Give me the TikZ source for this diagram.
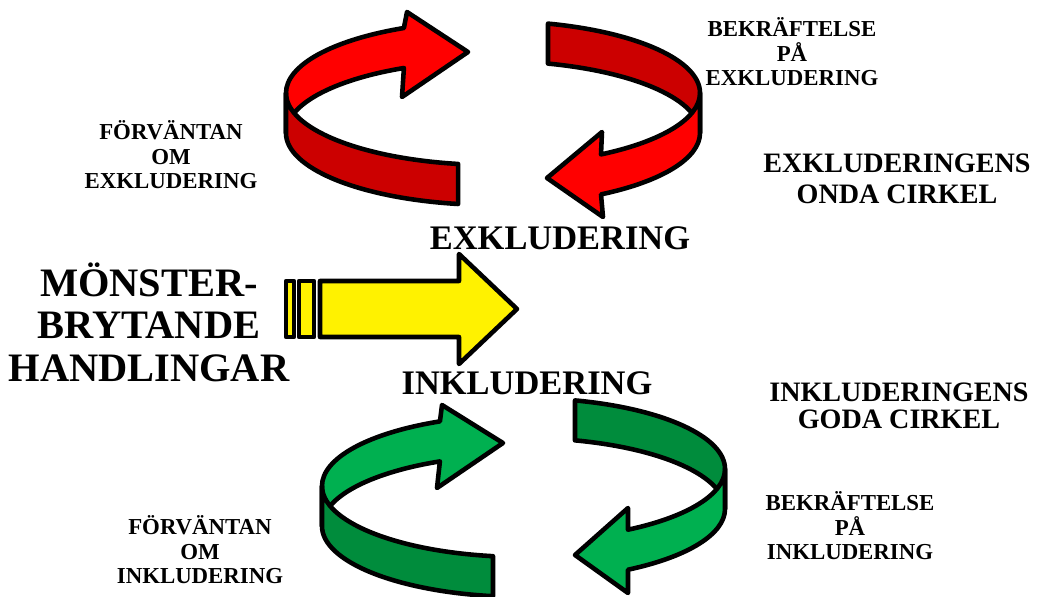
\documentclass[tikz,border=0pt]{standalone}
\usepackage{fontspec}
\setmainfont{Liberation Serif}
\definecolor{ringred}{RGB}{255,0,0}
\definecolor{ringdarkred}{RGB}{204,0,0}
\definecolor{ringgreen}{RGB}{0,176,80}
\definecolor{ringdarkgreen}{RGB}{0,140,60}
\tikzset{
  band/.style={draw=black, line width=2.6pt, line join=round},
  lbl/.style={font=\bfseries\fontsize{13}{13.9}\selectfont, align=center},
  cirkel/.style={font=\bfseries\fontsize{16}{18}\selectfont, align=center},
  word/.style={font=\bfseries\fontsize{19.6}{21}\selectfont},
}
\begin{document}
\begin{tikzpicture}[x=0.02cm,y=0.02cm]
  \useasboundingbox (0,0) rectangle (1042,596);
  % the bad circle
  \begin{scope}[band]
    \draw[fill=ringred] (286,503) arc[start angle=180,end angle=115.5,x radius=207,y radius=72]
      -- (407,584) -- (468,544) -- (402,499) -- (403.9,528)
      arc[start angle=115.5,end angle=180,x radius=207,y radius=72] -- cycle;
    \draw[fill=ringdarkred] (286,503) arc[start angle=180,end angle=260.3,x radius=207,y radius=72]
      -- (458.1,392) arc[start angle=260.3,end angle=180,x radius=207,y radius=72] -- cycle;
    \draw[fill=ringdarkred] (548,572.4) arc[start angle=74.6,end angle=0,x radius=207,y radius=72]
      -- (700,463) arc[start angle=0,end angle=74.6,x radius=207,y radius=72] -- cycle;
    \draw[fill=ringred] (700,503) arc[start angle=360,end angle=301.45,x radius=207,y radius=72]
      -- (602,464) -- (547,418) -- (603,379) -- (601,401.6)
      arc[start angle=301.45,end angle=360,x radius=207,y radius=72] -- cycle;
  \end{scope}
  % the good circle
  \begin{scope}[band]
    \draw[fill=ringgreen] (322,110) arc[start angle=180,end angle=114.5,x radius=201.5,y radius=71]
      -- (442,191) -- (503,153) -- (437,108) -- (439.9,134.6)
      arc[start angle=114.5,end angle=180,x radius=201.5,y radius=71] -- cycle;
    \draw[fill=ringdarkgreen] (322,110) arc[start angle=180,end angle=261.3,x radius=201.5,y radius=71]
      -- (493,-0.2) arc[start angle=261.3,end angle=180,x radius=201.5,y radius=71] -- cycle;
    \draw[fill=ringdarkgreen] (575,195.6) arc[start angle=75.2,end angle=0,x radius=201.5,y radius=71]
      -- (725,87) arc[start angle=0,end angle=75.2,x radius=201.5,y radius=71] -- cycle;
    \draw[fill=ringgreen] (725,127) arc[start angle=360,end angle=301.24,x radius=201.5,y radius=71]
      -- (628,88) -- (575,41) -- (628,3) -- (628,26.3)
      arc[start angle=301.24,end angle=360,x radius=201.5,y radius=71] -- cycle;
  \end{scope}
  % yellow arrow
  \begin{scope}[band, fill=yellow]
    \draw[fill] (286,259) rectangle (294,315);
    \draw[fill] (299,259) rectangle (314,315);
    \draw[fill] (320,259) -- (459,259) -- (459,232) -- (517,287)
      -- (459,342) -- (459,315) -- (320,315) -- cycle;
  \end{scope}
  \node[word] (exkl) at (560,358) {EXKLUDERING};
  \node[word] (inkl) at (527,213) {INKLUDERING};
  \node[font=\bfseries\fontsize{23}{24.2}\selectfont, align=center] (monster) at (149,274)
    {MÖNSTER-\\BRYTANDE\\HANDLINGAR};
  \node[lbl] (forvEx) at (171,441) {FÖRVÄNTAN\\OM\\EXKLUDERING};
  \node[lbl] (bekrEx) at (792,544) {BEKRÄFTELSE\\PÅ\\EXKLUDERING};
  \node[cirkel] (onda) at (897,417) {EXKLUDERINGENS\\ONDA CIRKEL};
  \node[cirkel, font=\bfseries\fontsize{16}{15.2}\selectfont] (goda) at (899,190)
    {INKLUDERINGENS\\GODA CIRKEL};
  \node[lbl] (bekrIn) at (850,70) {BEKRÄFTELSE\\PÅ\\INKLUDERING};
  \node[lbl] (forvIn) at (200,46) {FÖRVÄNTAN\\OM\\INKLUDERING};
\end{tikzpicture}
\end{document}
